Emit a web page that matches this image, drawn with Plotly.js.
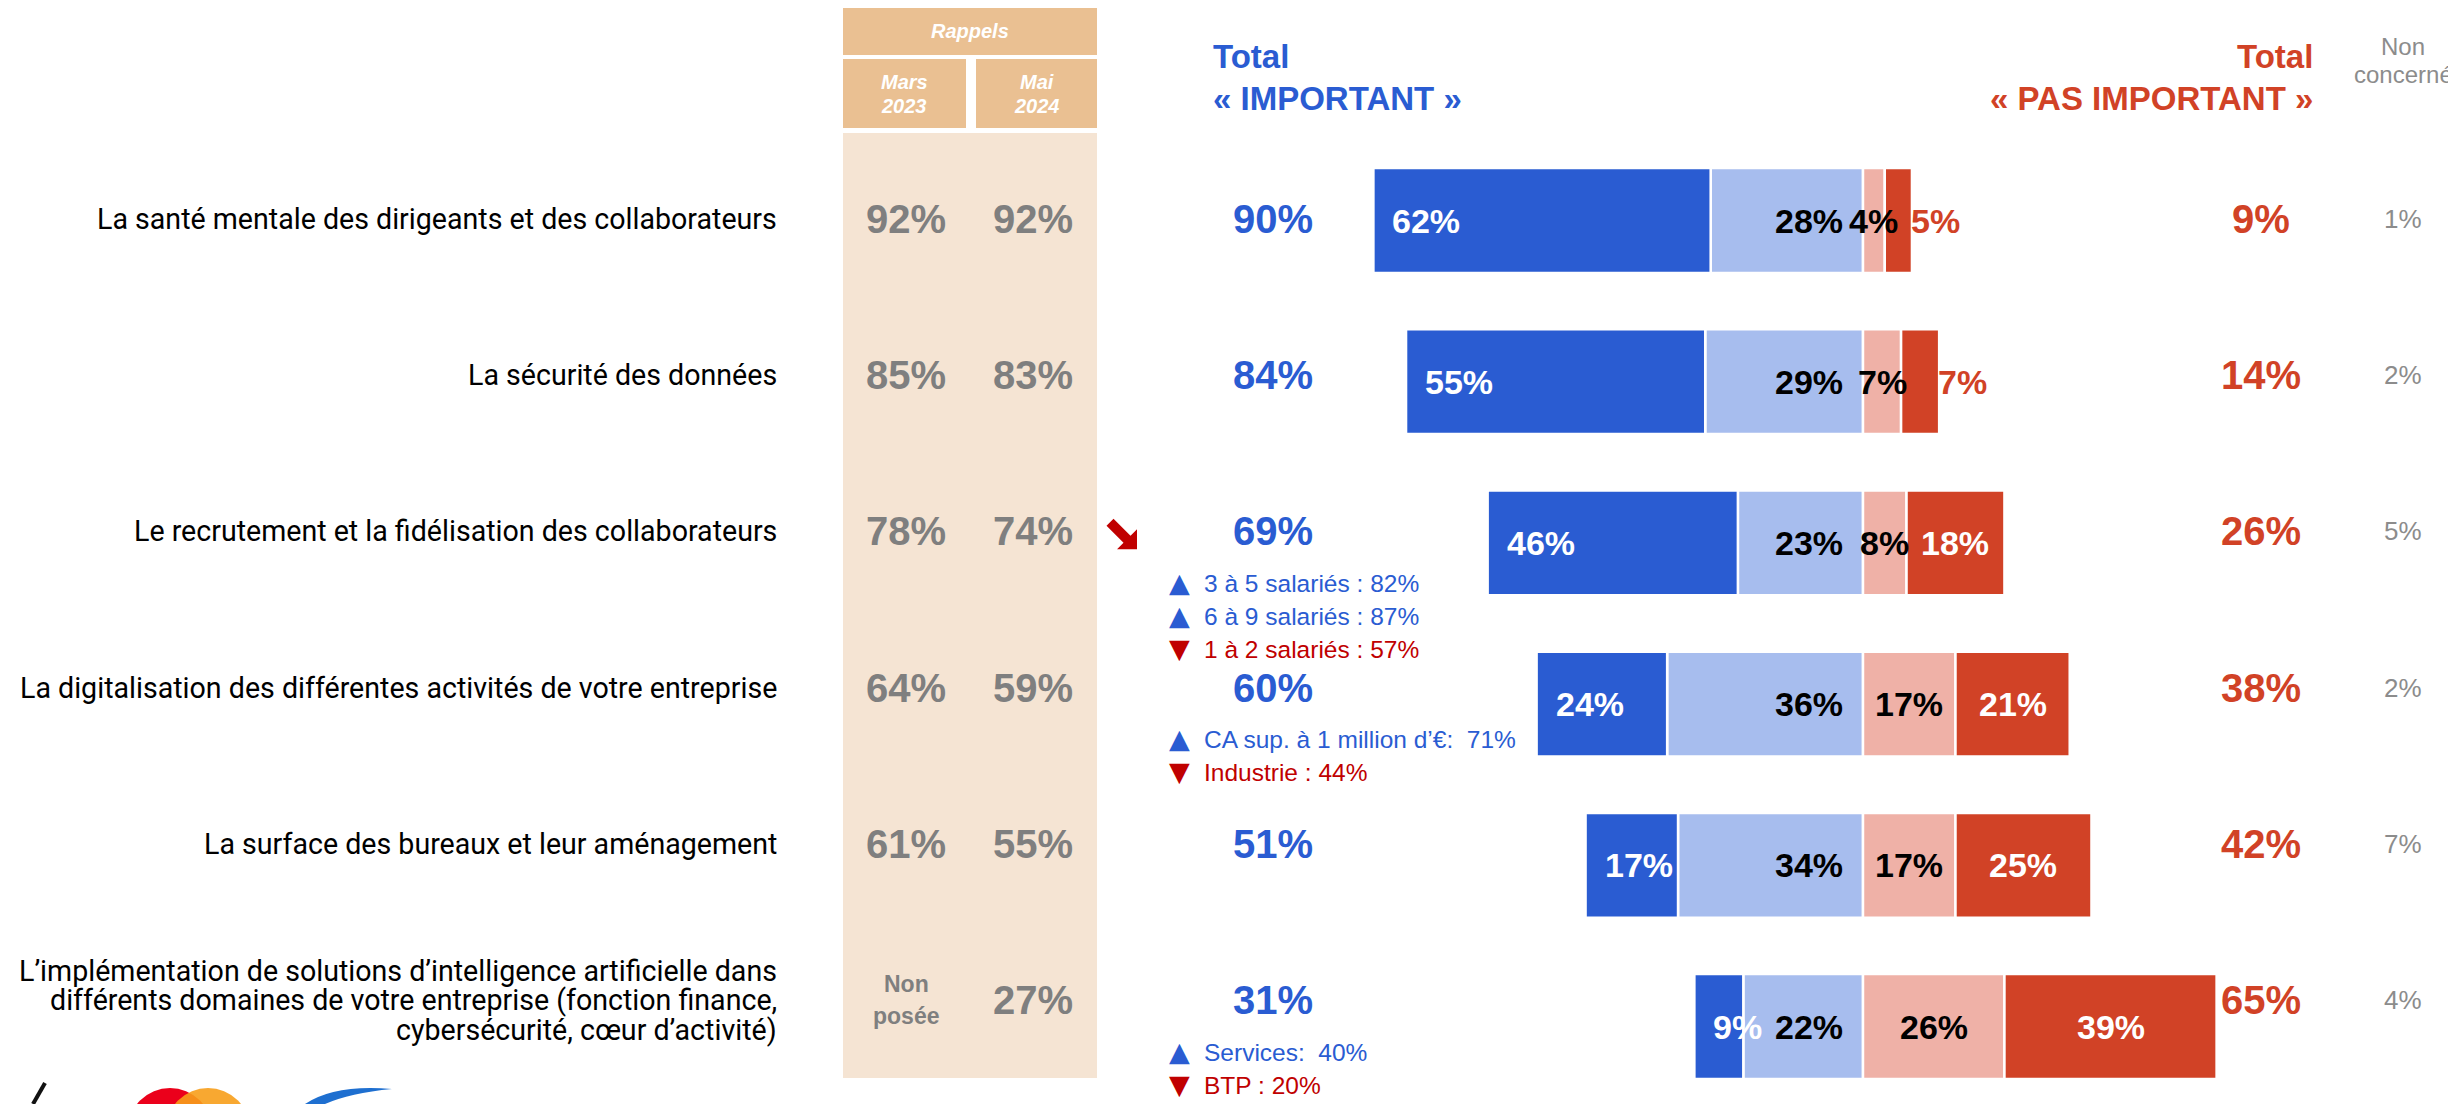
<!DOCTYPE html>
<html>
<head>
<meta charset="utf-8">
<script src="https://cdn.plot.ly/plotly-3.0.1.min.js"></script>
<style>
  html, body { margin: 0; padding: 0; background: #fff; }
  #chart { width: 2448px; height: 1104px; }
</style>
</head>
<body>
<div id="chart"></div>
<script>
const items = [
    "La santé mentale des dirigeants et des collaborateurs",
    "La sécurité des données",
    "Le recrutement et la fidélisation des collaborateurs",
    "La digitalisation des différentes activités de votre entreprise",
    "La surface des bureaux et leur aménagement",
    "L’implémentation de solutions d’intelligence artificielle dans\ndifférents domaines de votre entreprise (fonction finance,\ncybersécurité, cœur d’activité)"
];

// rappels (null = question non posée)
const rappelMars = [92, 85, 78, 64, 61, null];
const rappelMai = [92, 83, 74, 59, 55, 27];

// répartition des réponses
const tresImportant = [62, 55, 46, 24, 17, 9];
const assezImportant = [28, 29, 23, 36, 34, 22];
const peuImportant = [4, 7, 8, 17, 17, 26];
const pasDuTout = [5, 7, 18, 21, 25, 39];

const totalImportant = [90, 84, 69, 60, 51, 31];
const totalPasImportant = [9, 14, 26, 38, 42, 65];
const nonConcerne = [1, 2, 5, 2, 7, 4];

// sous-populations significatives
const noteRow = [2, 2, 2, 3, 3, 5, 5];
const noteText = ["3 à 5 salariés : 82%", "6 à 9 salariés : 87%", "1 à 2 salariés : 57%",
                  "CA sup. à 1 million d’€:\u00a0 71%", "Industrie : 44%",
                  "Services:\u00a0 40%", "BTP : 20%"];
const noteUp = [true, true, false, true, false, true, false];
const trendDownRows = [2];

const BLUE = "#2A5CD2", LIGHT_BLUE = "#A7BDEE", PINK = "#EFB1A7", RED = "#D14226";
const DARK_RED = "#C00000", GREY = "#7F7F7F";
const ARIAL = '"Liberation Sans", Arial, sans-serif';
const LABEL_FONT = 'Roboto, "Liberation Sans", sans-serif';
const SYMBOL_FONT = '"DejaVu Sans", sans-serif';

const W = 2448, H = 1104;
const px = x => x / W;
const py = y => 1 - y / H;

// zero line of the diverging bars and size of one point, in pixels
const CENTER = 1863, UNIT = 5.44;
const ROW0 = 220.5, ROWSTEP = 161.2;
// text rows sit a bit higher than the bars
const textShift = i => 1.9 + 4.9 * i;
const textY = i => ROW0 + i * ROWSTEP - textShift(i);

const annotations = [];
const add = o => annotations.push(Object.assign({
    showarrow: false, xref: "paper", yref: "paper", xanchor: "center", yanchor: "middle"
}, o));

const addLines = (lines, spacing, o) => {
    lines.forEach((line, k) => {
        add(Object.assign({}, o, {
            text: line,
            yshift: (o.yshift || 0) - (k - (lines.length - 1) / 2) * spacing
        }));
    });
};

const Show = () => {
    const seg = (vals, sign, color) => ({
        type: "bar",
        orientation: "h",
        y: items,
        x: vals.map(v => sign * v),
        marker: { color: color, line: { color: "#fff", width: 2.5 } },
        hoverinfo: "none"
    });

    const data = [
        seg(assezImportant, -1, LIGHT_BLUE),
        seg(tresImportant, -1, BLUE),
        seg(peuImportant, 1, PINK),
        seg(pasDuTout, 1, RED)
    ];

    items.forEach((label, i) => {
        const row = { yref: "y", y: i, yshift: textShift(i) };

        // question
        addLines(label.split("\n"), 29.5, Object.assign({}, row, {
            x: px(779), xanchor: "right",
            font: { family: LABEL_FONT, size: 28.6, color: "#000" }
        }));

        // rappels
        if (rappelMars[i] === null) {
            addLines(["<b>Non</b>", "<b>posée</b>"], 32, Object.assign({}, row, {
                x: px(906), font: { family: ARIAL, size: 23, color: GREY }
            }));
        } else {
            add(Object.assign({}, row, {
                x: px(906), text: "<b>" + rappelMars[i] + "%</b>",
                font: { family: ARIAL, size: 40, color: GREY }
            }));
        }
        add(Object.assign({}, row, {
            x: px(1033), text: "<b>" + rappelMai[i] + "%</b>",
            font: { family: ARIAL, size: 40, color: GREY }
        }));

        // totaux
        add(Object.assign({}, row, {
            x: px(1273), text: "<b>" + totalImportant[i] + "%</b>",
            font: { family: ARIAL, size: 40, color: BLUE }
        }));
        add(Object.assign({}, row, {
            x: px(2261), text: "<b>" + totalPasImportant[i] + "%</b>",
            font: { family: ARIAL, size: 40, color: RED }
        }));
        add(Object.assign({}, row, {
            x: px(2403), text: nonConcerne[i] + "%",
            font: { family: ARIAL, size: 26, color: "#8C8C8C" }
        }));

        // bar labels
        const barFont = c => ({ family: ARIAL, size: 34, color: c });
        add({ xref: "x", yref: "y", y: i, x: -(assezImportant[i] + tresImportant[i]),
              xanchor: "left", xshift: 17, text: "<b>" + tresImportant[i] + "%</b>", font: barFont("#fff") });
        add({ xref: "x", yref: "y", y: i, x: 0, xanchor: "right", xshift: -18,
              text: "<b>" + assezImportant[i] + "%</b>", font: barFont("#000") });
        add({ xref: "x", yref: "y", y: i, x: peuImportant[i] / 2,
              text: "<b>" + peuImportant[i] + "%</b>", font: barFont("#000") });
        if (pasDuTout[i] < 10) {
            add({ xref: "x", yref: "y", y: i, x: peuImportant[i] + pasDuTout[i], xanchor: "left", xshift: -3,
                  text: "<b>" + pasDuTout[i] + "%</b>", font: barFont(RED) });
        } else {
            add({ xref: "x", yref: "y", y: i, x: peuImportant[i] + pasDuTout[i] / 2,
                  text: "<b>" + pasDuTout[i] + "%</b>", font: barFont("#fff") });
        }
    });

    // sous-populations
    const seen = {};
    noteText.forEach((t, n) => {
        const r = noteRow[n];
        const k = seen[r] || 0;
        seen[r] = k + 1;
        const color = noteUp[n] ? BLUE : DARK_RED;
        const dy = textShift(r) - 52 - k * 33;
        add({
            yref: "y", y: r, yshift: dy + 1, x: px(1167), xanchor: "left",
            text: noteUp[n] ? "▲" : "▼",
            font: { family: SYMBOL_FONT, size: 27, color: color }
        });
        add({
            yref: "y", y: r, yshift: dy, x: px(1202), xanchor: "left",
            text: t,
            font: { family: ARIAL, size: 24.5, color: color }
        });
    });

    // en-têtes
    const head = { family: ARIAL, size: 20, color: "#fff" };
    add({ x: px(970), y: py(31), text: "<b><i>Rappels</i></b>", font: head });
    addLines(["<b><i>Mars</i></b>", "<b><i>2023</i></b>"], 24, { x: px(904), y: py(94), font: head });
    addLines(["<b><i>Mai</i></b>", "<b><i>2024</i></b>"], 24, { x: px(1037), y: py(94), font: head });

    addLines(["<b>Total</b>", "<b>« IMPORTANT »</b>"], 42,
        { x: px(1211), xanchor: "left", y: py(77), font: { family: ARIAL, size: 33, color: BLUE } });
    addLines(["<b>Total</b>", "<b>« PAS IMPORTANT »</b>"], 42,
        { x: px(2315), xanchor: "right", y: py(77), font: { family: ARIAL, size: 33, color: RED } });
    addLines(["Non", "concerné"], 28,
        { x: px(2403), y: py(61), font: { family: ARIAL, size: 24, color: "#8C8C8C" } });

    const rect = (x0, y0, x1, y1, color) => ({
        type: "rect", xref: "paper", yref: "paper", layer: "below",
        x0: px(x0), x1: px(x1), y0: py(y0), y1: py(y1),
        fillcolor: color, line: { width: 0 }
    });
    const poly = (pts, color) => ({
        type: "path", xref: "paper", yref: "paper",
        path: "M" + pts.map(p => px(p[0]) + "," + py(p[1])).join(" L") + " Z",
        fillcolor: color, line: { width: 0 }
    });

    const shapes = [
        rect(843, 8, 1097, 55, "#EAC092"),
        rect(843, 59, 966, 128, "#EAC092"),
        rect(976, 59, 1097, 128, "#EAC092"),
        rect(843, 133, 1097, 1078, "#F5E4D3"),
        // logos coupés en bas à gauche
        { type: "line", xref: "paper", yref: "paper", x0: px(33), y0: py(1104), x1: px(45), y1: py(1083),
          line: { color: "#111", width: 4 } },
        { type: "circle", xref: "paper", yref: "paper", x0: px(128), x1: px(212), y0: py(1088), y1: py(1172),
          fillcolor: "#EB001B", line: { width: 0 } },
        { type: "circle", xref: "paper", yref: "paper", x0: px(166), x1: px(250), y0: py(1088), y1: py(1172),
          fillcolor: "#F79E1B", opacity: 0.9, line: { width: 0 } },
        { type: "path", xref: "paper", yref: "paper",
          path: "M" + px(305) + "," + py(1104) + " Q" + px(335) + "," + py(1084) + " " + px(392) + "," + py(1089) +
                " Q" + px(350) + "," + py(1093) + " " + px(325) + "," + py(1104) + " Z",
          fillcolor: "#1E6FD0", line: { width: 0 } }
    ];

    // flèche de baisse à côté des rappels
    trendDownRows.forEach(r => {
        const cx = 1122, cy = textY(r) + 3;
        const rel = [[15, 15], [-5, 15], [1.5, 8.5], [-15.5, -8.5], [-8.5, -15.5], [8.5, 1.5], [15, -5]];
        shapes.push(poly(rel.map(p => [cx + p[0], cy + p[1]]), DARK_RED));
    });

    const layout = {
        width: W,
        height: H,
        margin: { l: 0, r: 0, t: 0, b: 0 },
        paper_bgcolor: "#fff",
        plot_bgcolor: "rgba(0,0,0,0)",
        showlegend: false,
        barmode: "relative",
        bargap: 0.35,
        xaxis: { range: [-CENTER / UNIT, (W - CENTER) / UNIT], visible: false, fixedrange: true },
        yaxis: { type: "category", range: [(H - ROW0) / ROWSTEP, -ROW0 / ROWSTEP], visible: false, fixedrange: true },
        annotations: annotations,
        shapes: shapes
    };

    Plotly.newPlot("chart", data, layout, { staticPlot: true });
}

Show();
</script>
</body>
</html>
